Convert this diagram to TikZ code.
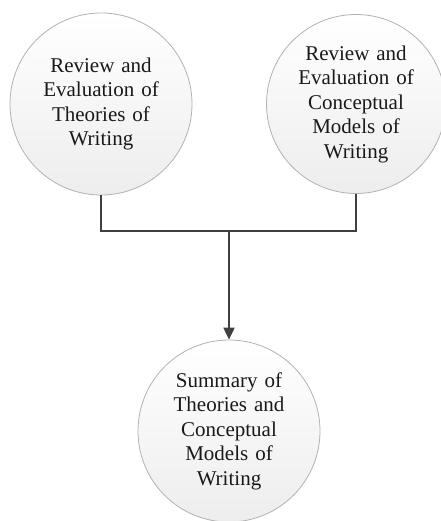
\documentclass[tikz,border=0pt]{standalone}
\usepackage{fontspec}
\setmainfont{Liberation Serif}
\usetikzlibrary{arrows.meta}
\begin{document}
\begin{tikzpicture}[x=1pt,y=-1pt,
  bubble/.style={circle, draw=gray!60, line width=0.8pt, top color=white, bottom color=gray!14,
    minimum size=182pt, inner sep=0pt, text width=116pt, align=center,
    font=\fontsize{21}{24.5}\selectfont, text=black!90},
  link/.style={draw=black!75, line width=2pt}]
\useasboundingbox (0,0) rectangle (440,521);
\node[bubble] (L) at (101,104) {Review and\\Evaluation of\\Theories of\\Writing};
\node[bubble, minimum size=179pt] (R) at (356,104) {Review and\\Evaluation of\\Conceptual\\Models of\\Writing};
\node[bubble] (S) at (229,431) {Summary of\\Theories and\\Conceptual\\Models of\\Writing};
\coordinate (j) at (229,231);
\draw[link] (L.south) -- (L.south |- j) -- (R.south |- j) -- (R.south);
\draw[link, -{Triangle[length=12pt,width=11pt]}] (j) -- (S.north);
\end{tikzpicture}
\end{document}
